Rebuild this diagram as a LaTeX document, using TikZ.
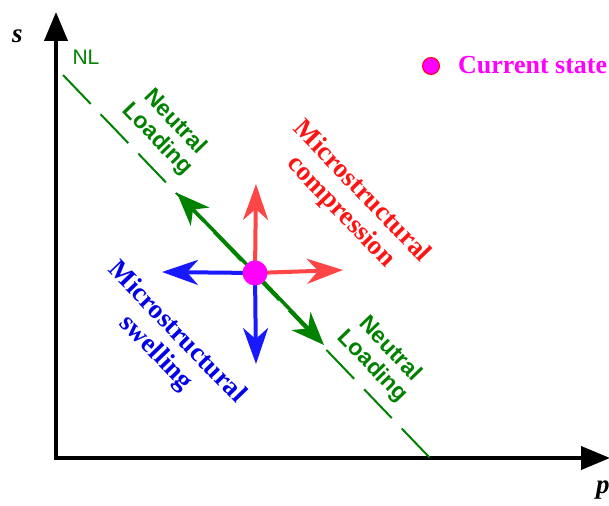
\documentclass[tikz,border=0pt]{standalone}
\usepackage{fontspec}
\usetikzlibrary{arrows.meta}
\newfontfamily\serifb{Liberation Serif}
\newfontfamily\sansf{Liberation Sans}
\definecolor{ngreen}{RGB}{0,130,0}
\definecolor{nred}{RGB}{255,20,20}
\definecolor{arred}{RGB}{255,70,70}
\definecolor{nblue}{RGB}{0,0,235}
\definecolor{arblue}{RGB}{25,25,255}
\definecolor{nmag}{RGB}{255,0,255}
\begin{document}
\begin{tikzpicture}[x=1pt,y=-1pt,
  axis/.style={line width=4pt,-{Triangle[length=29pt,width=23pt]}},
  vec/.style={line width=4pt,-{Stealth[length=36pt,width=25pt,inset=11pt]}},
  gvec/.style={line width=3.5pt,ngreen,-{Stealth[length=33pt,width=26pt,inset=10pt]}},
  nltext/.style={ngreen,font=\sansf\bfseries\fontsize{23}{25}\selectfont,align=center,rotate=-46,inner sep=0pt},
  mtext/.style={font=\serifb\bfseries\fontsize{27}{29}\selectfont,align=center,rotate=-46,inner sep=0pt},
  axlabel/.style={font=\serifb\bfseries\itshape\fontsize{27}{29}\selectfont,inner sep=0pt},
  dot/.style={circle,fill=nmag,inner sep=0pt}]
\useasboundingbox (0,0) rectangle (609,505);
% axes
\coordinate (O) at (56,458);
\coordinate (Stop) at (56,12);
\coordinate (Pend) at (610,458);
\draw[axis] ([yshift=2pt]O) -- (Stop);
\draw[axis] ([xshift=-2pt]O) -- (Pend);
\node[axlabel,anchor=base west] (slab) at (12,43) {s};
\node[axlabel,anchor=base west] (plab) at (596,493) {p};
% neutral loading line
\coordinate (NLa) at (63,75);
\coordinate (NLb) at (430,458);
\draw[ngreen,line width=2pt,dash pattern=on 40pt off 14.4pt] (NLa) -- (NLb);
\node[ngreen,font=\sansf\fontsize{21}{23}\selectfont,inner sep=0pt] (nl) at (86,57) {NL};
% center and arrows
\coordinate (C) at (255,273);
\coordinate (Gul) at (177,193);
\coordinate (Glr) at (324,345);
\coordinate (Rup) at (256,184);
\coordinate (Rri) at (343,270);
\coordinate (Ble) at (162,272);
\coordinate (Bdo) at (256,364);
\draw[gvec] (C) -- (Gul);
\draw[gvec] (C) -- (Glr);
\draw[vec,arred] (C) -- (Rup);
\draw[vec,arred] (C) -- (Rri);
\draw[vec,arblue] (C) -- (Ble);
\draw[vec,arblue] (C) -- (Bdo);
\node[dot,minimum size=25pt] (cs) at (C) {};
% texts
\node[nltext] (nlu) at (166,131) {Neutral\\Loading};
\node[nltext] (nll) at (381,358) {Neutral\\Loading};
\node[mtext,nred] (comp) at (351,202) {Microstructural\\compression};
\node[mtext,nblue] (swel) at (166,343) {Microstructural\\swelling};
% legend
\node[dot,draw=red,line width=1pt,minimum size=17pt] (leg) at (431,66) {};
\node[nmag,font=\serifb\bfseries\fontsize{26}{28}\selectfont,anchor=base west,inner sep=0pt] (legt) at (458,74) {Current state};
\end{tikzpicture}
\end{document}
